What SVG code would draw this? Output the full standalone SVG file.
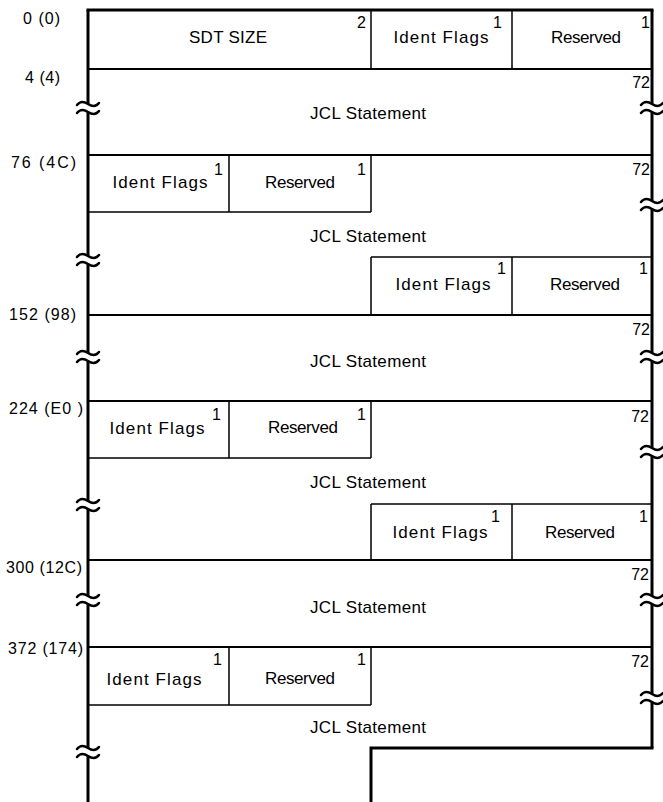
<svg xmlns="http://www.w3.org/2000/svg" xmlns:xlink="http://www.w3.org/1999/xlink" width="663" height="802" viewBox="0 0 663 802">
<style>
.frame{stroke:#000;stroke-width:3;fill:none}
.rule{stroke:#000;stroke-width:2;fill:none}
.div{stroke:#000;stroke-width:1.5;fill:none}
.brk{stroke:#000;stroke-width:2.5;fill:none;stroke-linecap:round}
text{font-family:"Liberation Sans",Arial,sans-serif;fill:#000}
.lbl{font-size:17px;text-anchor:middle}
.num{font-size:16px;text-anchor:end}
.off{font-size:16px}
</style>
<defs>
<g id="brk" class="brk">
<path d="M-11,-3 C-7,-8 -3,-6 0,-4 C3,-2 7,0 11,-5"/>
<path d="M-11,5 C-7,0 -3,2 0,4 C3,6 7,8 11,3"/>
</g>
</defs>
<rect width="663" height="802" fill="#fff"/>
<g id="frame">
<path class="frame" d="M88,10 V104 M88,112 V256 M88,264 V353 M88,361 V501 M88,509 V596 M88,604 V748 M88,756 V802"/>
<path class="frame" d="M652,10 V104 M652,112 V201 M652,209 V353 M652,361 V448 M652,456 V596 M652,604 V694 M652,702 V748"/>
<path class="frame" d="M86.5,10 H653.5"/>
<path class="rule" d="M88,69 H652 M88,155 H652 M88,315 H652 M88,401 H652 M88,560 H652 M88,647 H652"/>
<path class="frame" d="M653.5,748 H371 V802"/>
<use xlink:href="#brk" x="88" y="108"/>
<use xlink:href="#brk" x="88" y="260"/>
<use xlink:href="#brk" x="88" y="357"/>
<use xlink:href="#brk" x="88" y="505"/>
<use xlink:href="#brk" x="88" y="600"/>
<use xlink:href="#brk" x="88" y="752"/>
<use xlink:href="#brk" x="652" y="108"/>
<use xlink:href="#brk" x="652" y="205"/>
<use xlink:href="#brk" x="652" y="357"/>
<use xlink:href="#brk" x="652" y="452"/>
<use xlink:href="#brk" x="652" y="600"/>
<use xlink:href="#brk" x="652" y="698"/>
</g>
<g id="offsets" class="off">
<text x="23" y="24" textLength="37" lengthAdjust="spacing">0 (0)</text>
<text x="25" y="83" textLength="35" lengthAdjust="spacing">4 (4)</text>
<text x="11" y="168" textLength="65" lengthAdjust="spacing">76 (4C)</text>
<text x="9" y="320" textLength="67" lengthAdjust="spacing">152 (98)</text>
<text x="9" y="414" textLength="74" lengthAdjust="spacing">224 (E0 )</text>
<text x="6" y="573" textLength="76" lengthAdjust="spacing">300 (12C)</text>
<text x="8" y="654" textLength="75" lengthAdjust="spacing">372 (174)</text>
</g>
<g id="sdt-size">
<path class="div" d="M371,10 V69"/>
<text class="lbl" x="228" y="43" textLength="78" lengthAdjust="spacing">SDT SIZE</text>
<text class="num" x="366" y="28">2</text>
</g>
<g id="ident-flags-0">
<path class="div" d="M512,10 V69"/>
<text class="lbl" x="441" y="43" textLength="95" lengthAdjust="spacing">Ident  Flags</text>
<text class="num" x="502" y="28">1</text>
</g>
<g id="reserved-0">
<text class="lbl" x="586" y="43" textLength="70" lengthAdjust="spacing">Reserved</text>
<text class="num" x="650" y="28">1</text>
</g>
<g id="jcl-1">
<text class="lbl" x="368" y="119" textLength="116" lengthAdjust="spacing">JCL Statement</text>
<text class="num" x="650" y="88">72</text>
</g>
<g id="ident-flags-1">
<path class="div" d="M88,212 H371 M229,155 V212"/>
<text class="lbl" x="160" y="188" textLength="95" lengthAdjust="spacing">Ident  Flags</text>
<text class="num" x="223" y="175">1</text>
</g>
<g id="reserved-1">
<path class="div" d="M371,155 V212"/>
<text class="lbl" x="300" y="188" textLength="70" lengthAdjust="spacing">Reserved</text>
<text class="num" x="366" y="175">1</text>
</g>
<g id="jcl-2">
<text class="lbl" x="368" y="242" textLength="116" lengthAdjust="spacing">JCL Statement</text>
<text class="num" x="650" y="175">72</text>
</g>
<g id="ident-flags-2">
<path class="div" d="M371,257 H652 M371,257 V315"/>
<text class="lbl" x="443" y="290" textLength="95" lengthAdjust="spacing">Ident  Flags</text>
<text class="num" x="506" y="274">1</text>
</g>
<g id="reserved-2">
<path class="div" d="M512,257 V315"/>
<text class="lbl" x="585" y="290" textLength="70" lengthAdjust="spacing">Reserved</text>
<text class="num" x="648" y="274">1</text>
</g>
<g id="jcl-3">
<text class="lbl" x="368" y="367" textLength="116" lengthAdjust="spacing">JCL Statement</text>
<text class="num" x="650" y="335">72</text>
</g>
<g id="ident-flags-3">
<path class="div" d="M88,458 H371 M229,401 V458"/>
<text class="lbl" x="157" y="434" textLength="95" lengthAdjust="spacing">Ident  Flags</text>
<text class="num" x="221" y="420">1</text>
</g>
<g id="reserved-3">
<path class="div" d="M371,401 V458"/>
<text class="lbl" x="303" y="433" textLength="70" lengthAdjust="spacing">Reserved</text>
<text class="num" x="366" y="420">1</text>
</g>
<g id="jcl-4">
<text class="lbl" x="368" y="488" textLength="116" lengthAdjust="spacing">JCL Statement</text>
<text class="num" x="649" y="422">72</text>
</g>
<g id="ident-flags-4">
<path class="div" d="M371,504 H652 M371,504 V560"/>
<text class="lbl" x="440" y="538" textLength="95" lengthAdjust="spacing">Ident  Flags</text>
<text class="num" x="500" y="522">1</text>
</g>
<g id="reserved-4">
<path class="div" d="M512,504 V560"/>
<text class="lbl" x="580" y="538" textLength="70" lengthAdjust="spacing">Reserved</text>
<text class="num" x="648" y="522">1</text>
</g>
<g id="jcl-5">
<text class="lbl" x="368" y="613" textLength="116" lengthAdjust="spacing">JCL Statement</text>
<text class="num" x="649" y="580">72</text>
</g>
<g id="ident-flags-5">
<path class="div" d="M88,705 H371 M229,647 V705"/>
<text class="lbl" x="154" y="685" textLength="95" lengthAdjust="spacing">Ident  Flags</text>
<text class="num" x="222" y="665">1</text>
</g>
<g id="reserved-5">
<path class="div" d="M371,647 V705"/>
<text class="lbl" x="300" y="684" textLength="70" lengthAdjust="spacing">Reserved</text>
<text class="num" x="366" y="665">1</text>
</g>
<g id="jcl-6">
<text class="lbl" x="368" y="733" textLength="116" lengthAdjust="spacing">JCL Statement</text>
<text class="num" x="649" y="667">72</text>
</g>
<g id="connectors"/>
</svg>
